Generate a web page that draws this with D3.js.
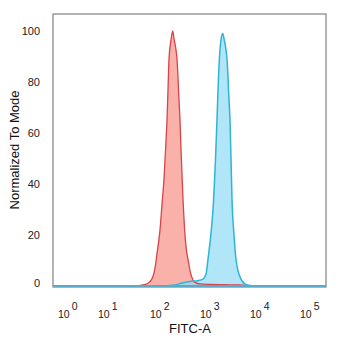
<!DOCTYPE html>
<html>
<head>
<meta charset="utf-8">
<script src="https://cdn.jsdelivr.net/npm/d3@7"></script>
<style>
  html, body { margin: 0; padding: 0; background: #fff; }
  svg { display: block; font-family: "Liberation Sans", Arial, sans-serif; }
</style>
</head>
<body>
<svg id="chart" width="343" height="347"></svg>
<script>
// Channel values are stored as log10(FITC-A); counts as % of mode.
const redX = [-0.35, 1.50, 1.62, 1.72, 1.82, 1.88, 1.92, 1.96, 2.02, 2.06, 2.10, 2.14, 2.16, 2.18, 2.20, 2.24, 2.274,
              2.30, 2.34, 2.36, 2.40, 2.42, 2.44, 2.48, 2.52, 2.56, 2.58, 2.62, 2.68, 2.74, 2.82, 3.02, 3.32, 3.62, 3.74, 3.80, 5.34];
const redY = [0, 0, 0.2, 0.5, 1.6, 3.5, 6.6, 12.5, 22, 32, 42, 57, 65, 77, 89, 96.5, 100,
              97, 92.6, 89, 73, 65, 53.5, 34, 20, 12.5, 10.5, 6, 2.3, 1.2, 0.8, 0.6, 0.5, 0.4, 0.2, 0, 0];

const blueX = [-0.35, 2.00, 2.12, 2.32, 2.46, 2.62, 2.78, 2.88, 2.94, 2.98, 3.02, 3.06, 3.09, 3.11, 3.13, 3.15, 3.17, 3.19, 3.21, 3.24, 3.274,
               3.30, 3.34, 3.36, 3.40, 3.42, 3.44, 3.46, 3.50, 3.54, 3.58, 3.64, 3.72, 3.82, 4.02, 5.34];
const blueY = [0, 0, 0.1, 0.4, 1.2, 1.8, 2.1, 2.7, 4.7, 10.5, 17, 25, 33, 41, 50, 60, 71, 82, 90, 96.5, 99,
               97, 92.6, 89, 73, 65, 50, 34, 20, 10.5, 6, 2.7, 0.8, 0.2, 0, 0];

const xTickExp = [0, 1, 2, 3, 4, 5];
const yTicks = [0, 20, 40, 60, 80, 100];

const svg = d3.select("#chart");
const frame = { left: 53, top: 14, right: 326, bottom: 287 };

// Display axis: compressed low decades, as in a biexponential display.
const x = d3.scaleLinear()
  .domain([-0.35, 0, 1, 2, 3, 4, 5, 5.34])
  .range([frame.left, 67, 107, 159, 209, 259, 309, frame.right]);
const y = d3.scaleLinear().domain([0, 100]).range([frame.bottom - 1, 31]);

const area = d3.area().x(d => x(d[0])).y0(y(0)).y1(d => y(d[1])).curve(d3.curveMonotoneX);
const line = d3.line().x(d => x(d[0])).y(d => y(d[1])).curve(d3.curveMonotoneX);

const red = d3.zip(redX, redY);
const blue = d3.zip(blueX, blueY);

svg.append("path").datum(red).attr("d", area)
  .attr("fill", "#f8877c").attr("fill-opacity", 0.65);
svg.append("path").datum(blue).attr("d", area)
  .attr("fill", "#8fdcf3").attr("fill-opacity", 0.7);
svg.append("path").datum(red).attr("d", line)
  .attr("fill", "none").attr("stroke", "#d9434a").attr("stroke-width", 1.3);
svg.append("path").datum(blue).attr("d", line)
  .attr("fill", "none").attr("stroke", "#2fb4d6").attr("stroke-width", 1.5);

// Plot frame
svg.append("rect")
  .attr("x", frame.left).attr("y", frame.top)
  .attr("width", frame.right - frame.left).attr("height", frame.bottom - frame.top)
  .attr("fill", "none").attr("stroke", "#8a8a8a").attr("stroke-width", 1.3);

// Baseline along the bottom of the plot
svg.append("line")
  .attr("x1", frame.left).attr("x2", frame.right)
  .attr("y1", y(0)).attr("y2", y(0))
  .attr("stroke", "#5aaac9").attr("stroke-width", 2);

// Y tick labels
svg.append("g").selectAll("text").data(yTicks).join("text")
  .attr("x", 40)
  .attr("y", d => d === 0 ? y(d) - 3 : y(d))
  .attr("dy", "0.35em")
  .attr("text-anchor", "end")
  .attr("font-size", 11)
  .attr("fill", "#222")
  .text(d => d);

// X tick labels: 10 with superscript exponent
const xt = svg.append("g").selectAll("text").data(xTickExp).join("text")
  .attr("x", d => x(d) - 9)
  .attr("y", 318)
  .attr("font-size", 10.5)
  .attr("fill", "#222");
xt.append("tspan").text("10");
xt.append("tspan").attr("dx", 2).attr("dy", -8).attr("font-size", 10.5).text(d => d);

// Axis titles
svg.append("text")
  .attr("x", 190).attr("y", 333)
  .attr("text-anchor", "middle")
  .attr("font-size", 13)
  .attr("fill", "#111")
  .text("FITC-A");

svg.append("text")
  .attr("transform", "translate(19,150) rotate(-90)")
  .attr("text-anchor", "middle")
  .attr("font-size", 13)
  .attr("fill", "#111")
  .text("Normalized To Mode");
</script>
</body>
</html>
